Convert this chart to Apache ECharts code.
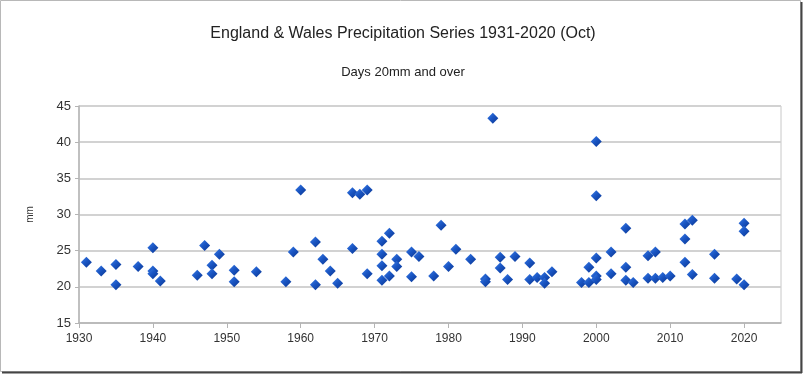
<!DOCTYPE html>
<html>
<head>
<meta charset="utf-8">
<script src="https://cdn.jsdelivr.net/npm/echarts@6/dist/echarts.min.js"></script>
<style>
  html, body { margin: 0; padding: 0; background: #fff; }
  #chart { width: 806px; height: 377px; }
</style>
</head>
<body>
<div id="chart"></div>
<script>
// one entry per point: year and days value
const years = [
  1931, 1933, 1935, 1935, 1938, 1940, 1940, 1940, 1941, 1946,
  1947, 1948, 1948, 1949, 1951, 1951, 1954, 1958, 1959, 1960,
  1962, 1962, 1963, 1964, 1965, 1967, 1967, 1968, 1969, 1969,
  1971, 1971, 1971, 1971, 1972, 1972, 1973, 1973, 1975, 1975,
  1976, 1978, 1979, 1980, 1981, 1983, 1985, 1985, 1986, 1987,
  1987, 1988, 1989, 1991, 1991, 1992, 1993, 1993, 1994, 1998,
  1999, 1999, 2000, 2000, 2000, 2000, 2000, 2002, 2002, 2004,
  2004, 2004, 2005, 2007, 2007, 2008, 2008, 2009, 2010, 2012,
  2012, 2012, 2013, 2013, 2016, 2016, 2019, 2020, 2020, 2020
]
const days = [
  23.4, 22.2, 23.1, 20.3, 22.8, 25.4, 22.2, 21.8, 20.8, 21.6,
  25.7, 23.0, 21.8, 24.5, 22.3, 20.7, 22.1, 20.7, 24.8, 33.4,
  26.2, 20.3, 23.8, 22.2, 20.5, 33.0, 25.3, 32.8, 33.4, 21.8,
  26.3, 24.5, 22.9, 20.9, 27.4, 21.5, 23.8, 22.8, 24.8, 21.4,
  24.2, 21.5, 28.5, 22.8, 25.2, 23.8, 21.1, 20.7, 43.3, 24.1,
  22.6, 21.0, 24.2, 23.3, 21.0, 21.3, 21.3, 20.5, 22.1, 20.6,
  20.6, 22.7, 40.1, 32.6, 24.0, 21.5, 21.0, 24.8, 21.8, 28.1,
  22.7, 20.9, 20.6, 24.3, 21.2, 24.8, 21.2, 21.3, 21.5, 28.7,
  26.6, 23.4, 29.2, 21.7, 24.5, 21.2, 21.1, 28.8, 27.7, 20.3
]
const xTicks = [1930, 1940, 1950, 1960, 1970, 1980, 1990, 2000, 2010, 2020]

const points = years.map((y, i) => [y, days[i]])
const font = 'Liberation Sans, Arial, sans-serif'

const chart = echarts.init(document.getElementById('chart'))
chart.setOption({
  animation: false,
  backgroundColor: '#fff',
  title: [
    {
      text: 'England & Wales Precipitation Series 1931-2020 (Oct)',
      left: 'center',
      top: 21,
      textStyle: { fontFamily: font, fontSize: 16, fontWeight: 'normal', color: '#222' }
    },
    {
      text: 'Days 20mm and over',
      left: 'center',
      top: 61,
      textStyle: { fontFamily: font, fontSize: 13, fontWeight: 'normal', color: '#222' }
    }
  ],
  graphic: [
    // picture frame with a dark shadow on right and bottom
    { type: 'rect', shape: { x: 0.5, y: 0.5, width: 800, height: 371 }, style: { fill: null, stroke: '#b8b8b8', lineWidth: 1 } },
    { type: 'line', shape: { x1: 801.5, y1: 2, x2: 801.5, y2: 373 }, style: { stroke: '#444', lineWidth: 2 } },
    { type: 'line', shape: { x1: 2, y1: 372.5, x2: 802, y2: 372.5 }, style: { stroke: '#444', lineWidth: 2 } }
  ],
  grid: {
    left: 79,
    right: 25,
    top: 106,
    bottom: 54,
    show: true,
    borderColor: '#c8c8c8',
    borderWidth: 1
  },
  xAxis: {
    type: 'value',
    min: 1930,
    max: 2025,
    interval: 10,
    axisLine: { onZero: false, lineStyle: { color: '#b4b4b4', width: 1.5 } },
    axisTick: { show: true, length: 5, customValues: xTicks, lineStyle: { color: '#b4b4b4' } },
    axisLabel: {
      customValues: xTicks,
      formatter: v => String(v),
      margin: 10,
      fontFamily: font,
      fontSize: 12,
      color: '#333'
    },
    splitLine: { show: false }
  },
  yAxis: {
    type: 'value',
    min: 15,
    max: 45,
    interval: 5,
    name: 'mm',
    nameLocation: 'middle',
    nameRotate: 90,
    nameGap: 44,
    nameTextStyle: { fontFamily: font, fontSize: 10, color: '#333' },
    axisLine: { show: true, lineStyle: { color: '#b4b4b4', width: 1.5 } },
    axisTick: { show: true, length: 4, lineStyle: { color: '#b4b4b4' } },
    axisLabel: { margin: 8, fontFamily: font, fontSize: 13, color: '#333' },
    splitLine: { show: true, lineStyle: { color: '#d2d2d2', width: 2 } }
  },
  series: [
    {
      type: 'scatter',
      data: points,
      symbol: 'diamond',
      symbolSize: 11,
      itemStyle: {
        opacity: 1,
        color: new echarts.graphic.LinearGradient(0, 0, 1, 1, [
          { offset: 0, color: '#3f80e8' },
          { offset: 0.45, color: '#1a56c4' },
          { offset: 1, color: '#0a3590' }
        ])
      }
    }
  ]
})
</script>
</body>
</html>
